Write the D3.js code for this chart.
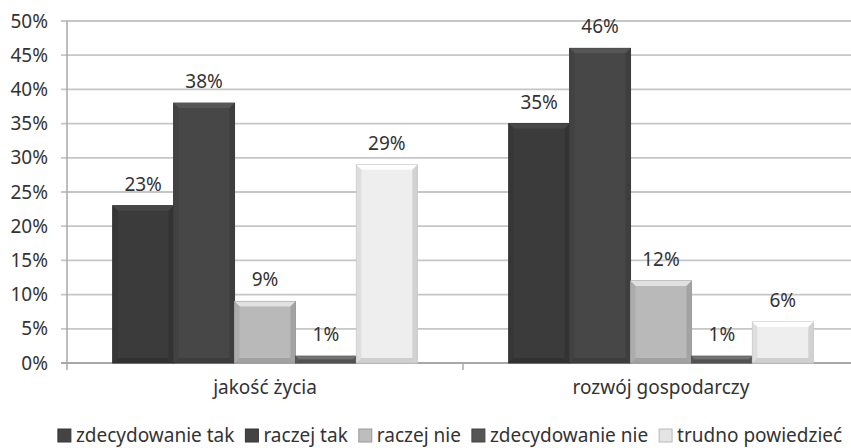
<!DOCTYPE html>
<html>
<head>
<meta charset="utf-8">
<script src="https://cdn.jsdelivr.net/npm/d3@7"></script>
<style>
  body { margin: 0; background: #fff; }
  svg { display: block; font-family: "Noto Sans", sans-serif; }
</style>
</head>
<body>
<div id="chart"></div>
<script>
const categories = ["jakość życia", "rozwój gospodarczy"];
const series = ["zdecydowanie tak", "raczej tak", "raczej nie", "zdecydowanie nie", "trudno powiedzieć"];
const values = [
  [23, 38, 9, 1, 29],
  [35, 46, 12, 1, 6]
];
const yTicks = [0, 5, 10, 15, 20, 25, 30, 35, 40, 45, 50];

const width = 851,
  height = 448,
  margin = { left: 67, right: -8, top: 21, bottom: 85 };

const fontSize = 19;
const colors = ["#3b3b3b", "#474747", "#b9b9b9", "#5e5e5e", "#eeeeee"];
const legendColors = ["#444", "#444", "#bdbdbd", "#555", "#e4e4e4"];

const x0 = d3.scaleBand()
  .domain(categories)
  .range([margin.left, width - margin.right])
  .padding(0);

const x1 = d3.scaleBand()
  .domain(series)
  .range([0, x0.bandwidth()])
  .paddingInner(0)
  .paddingOuter(0.75);

const y = d3.scaleLinear()
  .domain([0, 50])
  .range([height - margin.bottom, margin.top]);

const svg = d3.select("#chart").append("svg")
  .attr("width", width)
  .attr("height", height);

// gridlines
svg.append("g")
  .selectAll("line")
  .data(yTicks)
  .join("line")
  .attr("x1", margin.left - 6)
  .attr("x2", width)
  .attr("y1", d => y(d))
  .attr("y2", d => y(d))
  .attr("stroke", (d) => d === 0 ? "#a8a8a8" : "#c6c6c6")
  .attr("stroke-width", 1.8);

// y axis
const yAxis = svg.append("g")
  .attr("transform", `translate(${margin.left},0)`)
  .call(d3.axisLeft(y).tickValues(yTicks).tickSize(0).tickPadding(19).tickFormat(d => d + "%"));
yAxis.select(".domain").remove();
yAxis.selectAll("text")
  .attr("font-size", fontSize)
  .attr("fill", "#333")
  .attr("font-family", "Noto Sans");

svg.append("line")
  .attr("x1", margin.left).attr("x2", margin.left)
  .attr("y1", margin.top).attr("y2", y(0) + 7)
  .attr("stroke", "#a8a8a8").attr("stroke-width", 1.5);

// x axis boundary ticks
svg.append("g")
  .selectAll("line")
  .data(categories)
  .join("line")
  .attr("x1", d => x0(d) + x0.bandwidth())
  .attr("x2", d => x0(d) + x0.bandwidth())
  .attr("y1", y(0))
  .attr("y2", y(0) + 7)
  .attr("stroke", "#a8a8a8").attr("stroke-width", 1.5);

svg.append("g")
  .selectAll("text")
  .data(categories)
  .join("text")
  .attr("x", d => x0(d) + x0.bandwidth() / 2)
  .attr("y", y(0) + 31)
  .attr("text-anchor", "middle")
  .attr("font-size", fontSize)
  .attr("fill", "#333")
  .text(d => d);

// bars with bevel
const b = 5;
const groups = svg.append("g")
  .selectAll("g")
  .data(categories)
  .join("g")
  .attr("transform", d => `translate(${x0(d)},0)`);

const bar = groups.selectAll("g")
  .data((c, i) => series.map((s, j) => ({ s, v: values[i][j], j })))
  .join("g");

bar.append("rect")
  .attr("x", d => x1(d.s))
  .attr("y", d => y(d.v))
  .attr("width", x1.bandwidth())
  .attr("height", d => y(0) - y(d.v))
  .attr("fill", d => colors[d.j])
  .attr("stroke", d => d3.color(colors[d.j]).darker(0.5))
  .attr("stroke-width", 1);

function bevel(d, side) {
  const x = x1(d.s), w = x1.bandwidth(), t = y(d.v), bt = y(0);
  const bb = Math.min(b, (bt - t) / 2);
  if (side === "top") return `${x},${t} ${x + w},${t} ${x + w - bb},${t + bb} ${x + bb},${t + bb}`;
  if (side === "left") return `${x},${t} ${x + bb},${t + bb} ${x + bb},${bt - bb} ${x},${bt}`;
  if (side === "right") return `${x + w},${t} ${x + w - bb},${t + bb} ${x + w - bb},${bt - bb} ${x + w},${bt}`;
  return `${x},${bt} ${x + bb},${bt - bb} ${x + w - bb},${bt - bb} ${x + w},${bt}`;
}

bar.append("polygon").attr("points", d => bevel(d, "top"))
  .attr("fill", d => d3.color(colors[d.j]).brighter(0.6)).attr("opacity", 0.9);
bar.append("polygon").attr("points", d => bevel(d, "left"))
  .attr("fill", d => d3.color(colors[d.j]).darker(0.25)).attr("opacity", 0.8);
bar.append("polygon").attr("points", d => bevel(d, "right"))
  .attr("fill", d => d3.color(colors[d.j]).darker(0.45)).attr("opacity", 0.8);
bar.append("polygon").attr("points", d => bevel(d, "bottom"))
  .attr("fill", d => d3.color(colors[d.j]).darker(0.5)).attr("opacity", 0.8);

bar.append("text")
  .attr("x", d => x1(d.s) + x1.bandwidth() / 2)
  .attr("y", d => y(d.v) - 15)
  .attr("text-anchor", "middle")
  .attr("font-size", fontSize)
  .attr("fill", "#333")
  .text(d => d.v + "%");

// legend
const legend = svg.append("g");
let lx = 0;
series.forEach((s, i) => {
  const g = legend.append("g");
  g.append("rect")
    .attr("x", 0).attr("y", -13)
    .attr("width", 13).attr("height", 13)
    .attr("fill", legendColors[i])
    .attr("stroke", d3.color(legendColors[i]).darker(0.6)).attr("stroke-width", 1);
  const t = g.append("text")
    .attr("x", 18).attr("y", 0)
    .attr("font-size", fontSize)
    .attr("fill", "#333")
    .text(s);
  const w = 18 + t.node().getComputedTextLength();
  g.attr("transform", `translate(${lx},0)`);
  lx += w + 11;
});
const total = lx - 11;
legend.attr("transform", `translate(${(50 + 850) / 2 - total / 2},${height - 6})`);
</script>
</body>
</html>
